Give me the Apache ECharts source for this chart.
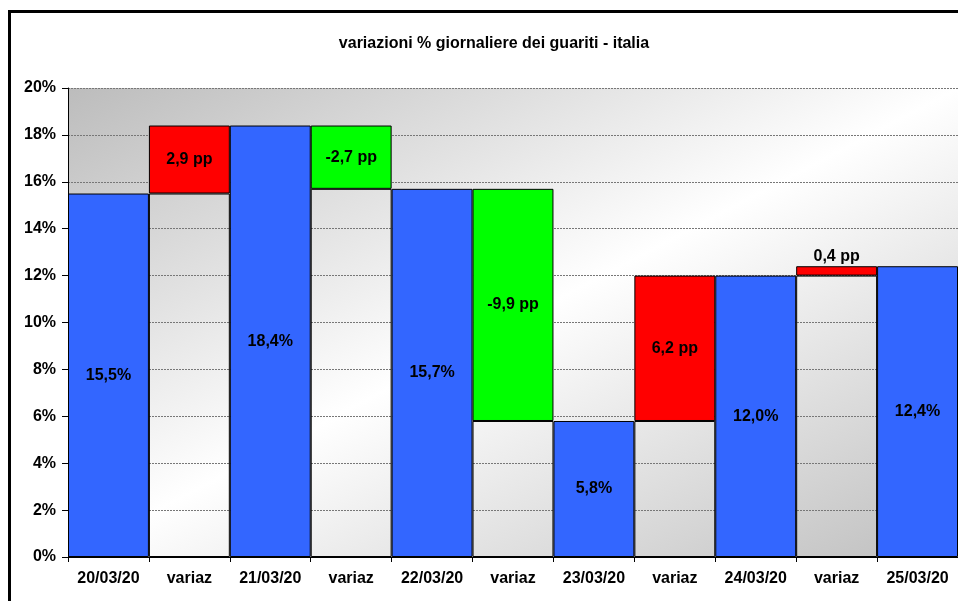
<!DOCTYPE html>
<html>
<head>
<meta charset="utf-8">
<script src="https://cdn.jsdelivr.net/npm/echarts@6/dist/echarts.min.js"></script>
<style>
  html, body { margin: 0; padding: 0; background: #fff; }
  #main { width: 958px; height: 601px; }
</style>
</head>
<body>
<div id="main"></div>
<script>
  // dati
  const categories = ['20/03/20', 'variaz', '21/03/20', 'variaz', '22/03/20', 'variaz',
    '23/03/20', 'variaz', '24/03/20', 'variaz', '25/03/20'];
  const levels = [15.5, 18.4, 15.7, 5.8, 12.0, 12.4];   // % giornaliera
  const deltas = [2.9, -2.7, -9.9, 6.2, 0.4];           // variazione in pp
  const yTicks = [0, 2, 4, 6, 8, 10, 12, 14, 16, 18, 20];

  const fmt = (v) => v.toFixed(1).replace('.', ',');

  // serie per il "waterfall": base trasparente + barra blu / rossa / verde
  const blue = [], base = [], up = [], down = [];
  for (let i = 0; i < categories.length; i++) {
    if (i % 2 === 0) {
      blue.push(levels[i / 2]);
      base.push('-'); up.push('-'); down.push('-');
    } else {
      const k = (i - 1) / 2;
      const d = deltas[k];
      blue.push('-');
      base.push(Math.min(levels[k], levels[k + 1]));
      // barra troppo bassa: etichetta sopra
      up.push(d > 0 ? (d < 1 ? { value: d, label: { position: 'top', distance: 2 } } : d) : '-');
      down.push(d < 0 ? -d : '-');
    }
  }

  const font = 'Arial, "Liberation Sans", sans-serif';
  const lbl = {
    show: true,
    position: 'inside',
    color: '#000',
    fontWeight: 'bold',
    fontSize: 16,
    fontFamily: font,
  };

  // area del grafico (px)
  const G = { left: 68, top: 88, right: 959, bottom: 557 };
  const w = G.right - G.left, h = G.bottom - G.top;
  const len = Math.sqrt(w * w + h * h);
  const proj = (2 * w * h) / len;
  // sfumatura diagonale: grigio in alto a sx e in basso a dx, bianco al centro
  const bg = new echarts.graphic.LinearGradient(
    G.left, G.top, G.left + (h / len) * proj, G.top + (w / len) * proj, [
      { offset: 0, color: '#bcbcbc' },
      { offset: 0.5, color: '#ffffff' },
      { offset: 1, color: '#bebebe' },
    ], true);

  const chart = echarts.init(document.getElementById('main'));
  chart.setOption({
    animation: false,
    backgroundColor: '#fff',
    title: {
      text: 'variazioni % giornaliere dei guariti - italia',
      left: 489,
      top: 31,
      textAlign: 'center',
      textStyle: { fontSize: 16, fontWeight: 'bold', color: '#000', fontFamily: font },
    },
    graphic: [{
      type: 'rect',
      shape: { x: 9.5, y: 11.5, width: 1000, height: 700 },
      style: { fill: 'none', stroke: '#000', lineWidth: 3 },
      z: 100,
    }],
    grid: {
      left: G.left, right: 958 - G.right, top: G.top, bottom: 601 - G.bottom,
      show: true,
      borderWidth: 0,
      backgroundColor: bg,
    },
    xAxis: {
      type: 'category',
      data: categories,
      axisLine: { lineStyle: { color: '#000', width: 1 } },
      axisTick: { show: true, length: 5, interval: 0, lineStyle: { color: '#000' } },
      axisLabel: {
        interval: 0,
        color: '#000', fontWeight: 'bold', fontSize: 16, fontFamily: font, margin: 14,
      },
    },
    yAxis: {
      type: 'value',
      min: yTicks[0],
      max: yTicks[yTicks.length - 1],
      interval: 2,
      axisLine: { show: true, lineStyle: { color: '#000', width: 1 } },
      axisTick: { show: true, length: 6, lineStyle: { color: '#000' } },
      axisLabel: {
        color: '#000', fontWeight: 'bold', fontSize: 16, fontFamily: font, margin: 12,
        formatter: (v) => v + '%',
      },
      splitLine: { show: true, lineStyle: { color: '#777', type: [2, 1], width: 1 } },
    },
    series: [
      {
        name: 'base', type: 'bar', stack: 'w', data: base,
        barCategoryGap: '0%',
        itemStyle: { color: 'rgba(0,0,0,0)', borderColor: '#000', borderWidth: 1 },
        silent: true,
      },
      {
        name: 'valore', type: 'bar', stack: 'w', data: blue,
        barCategoryGap: '0%',
        itemStyle: { color: '#3366ff', borderColor: '#000', borderWidth: 1 },
        label: Object.assign({}, lbl, { formatter: (p) => fmt(p.value) + '%' }),
      },
      {
        name: 'aumento', type: 'bar', stack: 'w', data: up,
        barCategoryGap: '0%',
        itemStyle: { color: '#ff0000', borderColor: '#000', borderWidth: 1 },
        label: Object.assign({}, lbl, { formatter: (p) => fmt(p.value) + ' pp' }),
      },
      {
        name: 'calo', type: 'bar', stack: 'w', data: down,
        barCategoryGap: '0%',
        itemStyle: { color: '#00ff00', borderColor: '#000', borderWidth: 1 },
        label: Object.assign({}, lbl, { formatter: (p) => '-' + fmt(p.value) + ' pp' }),
      },
    ],
  });
</script>
</body>
</html>
